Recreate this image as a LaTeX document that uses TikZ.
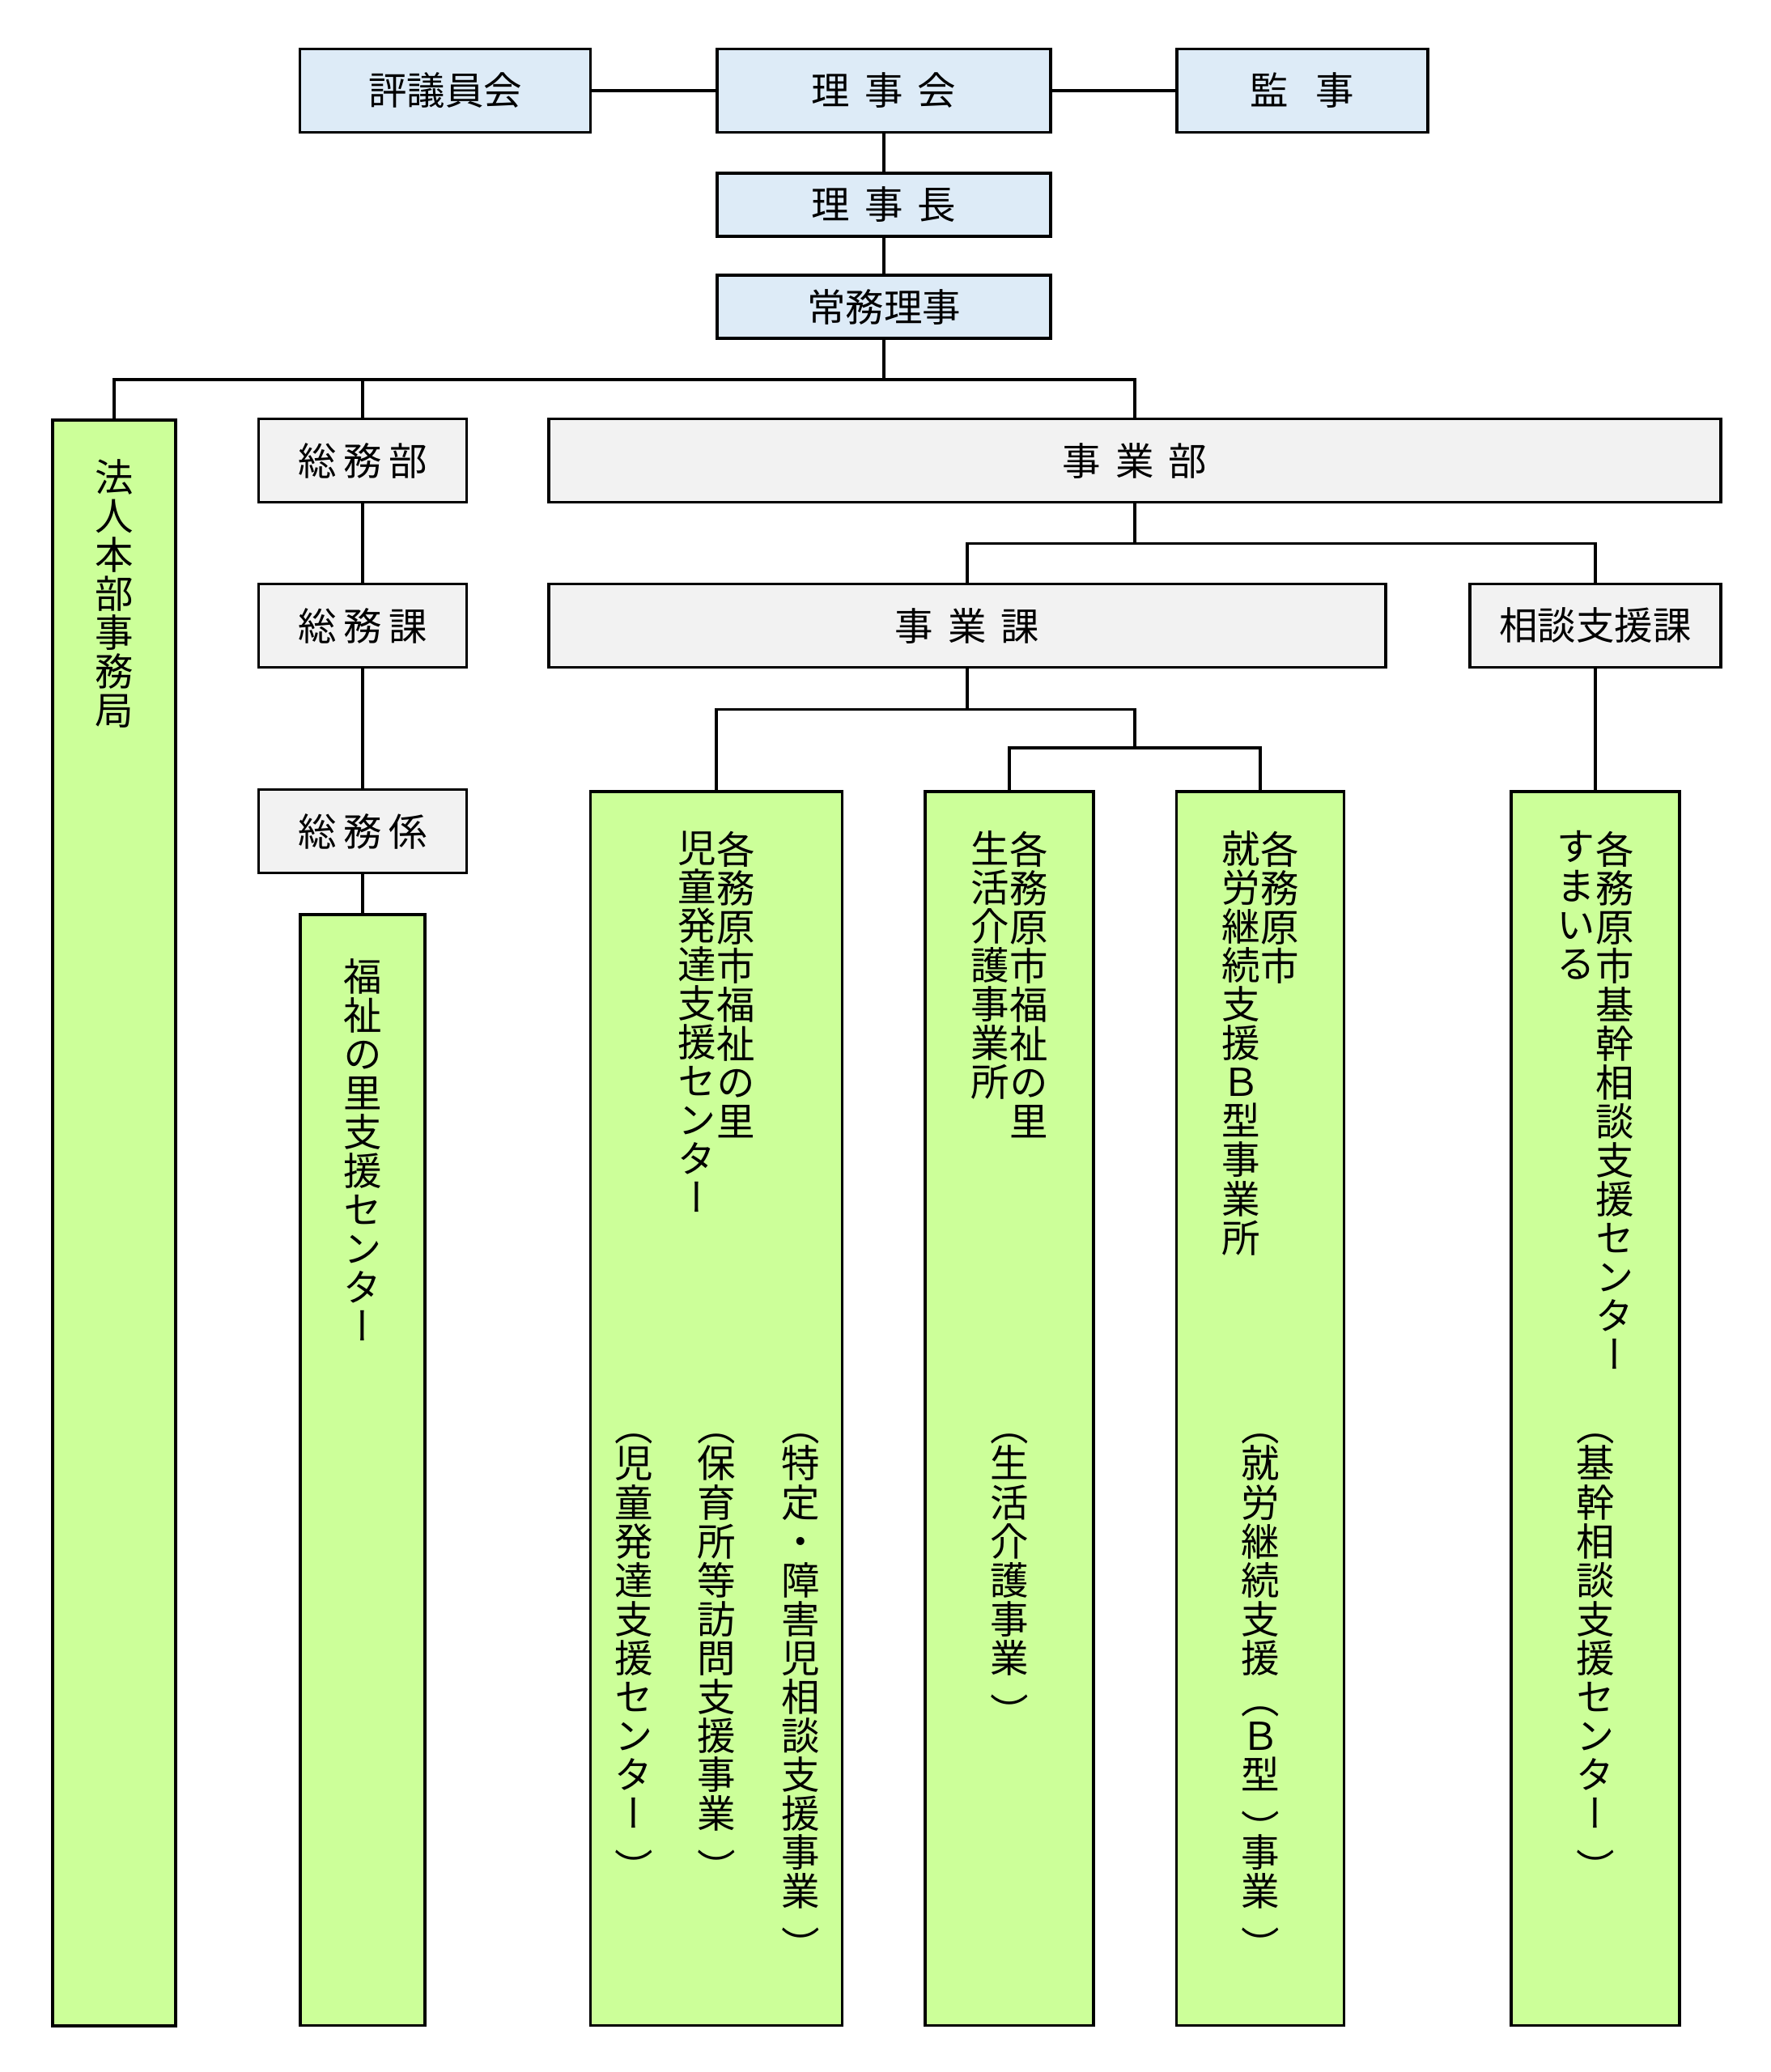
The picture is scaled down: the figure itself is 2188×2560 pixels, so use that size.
\documentclass[tikz,border=0pt]{standalone}
\usepackage{fontspec}
\newfontfamily\jpfont{Noto Sans CJK JP}
\newfontfamily\jpvert[RawFeature=+vert]{Noto Sans CJK JP}
\usetikzlibrary{positioning,calc}
\definecolor{boardblue}{RGB}{221,235,247}
\definecolor{deptgray}{RGB}{242,242,242}
\definecolor{sitegreen}{RGB}{204,255,153}
\newcommand{\wgap}{\hspace{0.38em}}
\newcommand{\ngap}{\hspace{0.18em}}
\newcommand{\jpsize}{\fontsize{13.5pt}{13.66pt}\selectfont}
\newcommand{\vsetup}{\jpvert\jpsize\lineskiplimit=-\maxdimen}
% vertical brackets
\newcommand{\vop}{\rule{0pt}{0.88em}\raisebox{-0.06em}{︵}}
\newcommand{\vcl}{\raisebox{-0.4em}{︶}}
\tikzset{
  board/.style={draw=black,fill=boardblue,line width=1pt,inner sep=0pt,
    minimum width=4.12cm,font=\jpfont\jpsize},
  dept/.style={draw=black,fill=deptgray,line width=1pt,inner sep=0pt,
    minimum height=1.03cm,font=\jpfont\jpsize},
  site/.style={draw=black,fill=sitegreen,line width=1pt,inner sep=0pt,anchor=north},
  vcol/.style={inner sep=0pt,align=center,anchor=north,font=\vsetup},
  link/.style={line width=1pt}
}

\begin{document}
\begin{tikzpicture}[x=0.01cm,y=-0.01cm]
  \useasboundingbox (0,0) rectangle (2188,2560);
  % board
  \node[board,minimum width=3.59cm,minimum height=1.03cm] (hyogi) at (550,112) {評議員会};
  \node[board,minimum height=1.03cm] (rijikai) at (1092,112) {理\wgap 事\wgap 会};
  \node[board,minimum width=3.10cm,minimum height=1.03cm] (kanji) at (1609,112) {監\hspace{0.7em}事};
  \node[board,minimum height=0.78cm] (rijicho) at (1092,253) {理\wgap 事\wgap 長};
  \node[board,minimum height=0.78cm] (jomu) at (1092,379) {常務理事};
  % departments
  \node[dept,minimum width=2.57cm] (somubu) at (448,569) {総\ngap 務\ngap 部};
  \node[dept,minimum width=14.47cm] (jigyobu) at (1402,569) {事\wgap 業\wgap 部};
  \node[dept,minimum width=2.57cm] (somuka) at (448,773) {総\ngap 務\ngap 課};
  \node[dept,minimum width=10.33cm] (jigyoka) at (1195,773) {事\wgap 業\wgap 課};
  \node[dept,minimum width=3.10cm] (sodanka) at (1971,773) {相談支援課};
  \node[dept,minimum width=2.57cm] (somukakari) at (448,1027) {総\ngap 務\ngap 係};
  % offices
  \node[site,minimum width=1.52cm,minimum height=19.83cm] (hojin) at (141,517) {};
  \node[site,minimum width=1.54cm,minimum height=13.72cm] (fukushi) at (448,1128) {};
  \node[site,minimum width=3.11cm,minimum height=15.24cm] (jido) at (885,976) {};
  \node[site,minimum width=2.08cm,minimum height=15.24cm] (seikatsu) at (1247,976) {};
  \node[site,minimum width=2.07cm,minimum height=15.24cm] (shuro) at (1557,976) {};
  \node[site,minimum width=2.08cm,minimum height=15.24cm] (sodan) at (1971,976) {};

  % vertical labels
  \node[vcol] (hojintxt) at ([yshift=-5.0mm]hojin.north) {法\\人\\本\\部\\事\\務\\局};
  \node[vcol] (fukushitxt) at ([yshift=-5.6mm]fukushi.north) {福\\祉\\の\\里\\支\\援\\セ\\ン\\タ\\ー};
  \node[vcol] (jidoa) at ([xshift=2.4mm,yshift=-5.0mm]jido.north) {各\\務\\原\\市\\福\\祉\\の\\里};
  \node[vcol] (jidob) at ([xshift=-2.4mm,yshift=-5.0mm]jido.north) {児\\童\\発\\達\\支\\援\\セ\\ン\\タ\\ー};
  \node[vcol] (jidoc) at ([xshift=10.4mm,yshift=-75.9mm]jido.north) {\vop\\特\\定\\・\\障\\害\\児\\相\\談\\支\\援\\事\\業\\\vcl};
  \node[vcol] (jidod) at ([yshift=-75.9mm]jido.north) {\vop\\保\\育\\所\\等\\訪\\問\\支\\援\\事\\業\\\vcl};
  \node[vcol] (jidoe) at ([xshift=-10.2mm,yshift=-75.9mm]jido.north) {\vop\\児\\童\\発\\達\\支\\援\\セ\\ン\\タ\\ー\\\vcl};
  \node[vcol] (seikatsua) at ([xshift=2.4mm,yshift=-5.0mm]seikatsu.north) {各\\務\\原\\市\\福\\祉\\の\\里};
  \node[vcol] (seikatsub) at ([xshift=-2.4mm,yshift=-5.0mm]seikatsu.north) {生\\活\\介\\護\\事\\業\\所};
  \node[vcol] (seikatsuc) at ([yshift=-75.9mm]seikatsu.north) {\vop\\生\\活\\介\\護\\事\\業\\\vcl};
  \node[vcol] (shuroa) at ([xshift=2.4mm,yshift=-5.0mm]shuro.north) {各\\務\\原\\市};
  \node[vcol] (shurob) at ([xshift=-2.4mm,yshift=-5.0mm]shuro.north) {就\\労\\継\\続\\支\\援\\Ｂ\\型\\事\\業\\所};
  \node[vcol] (shuroc) at ([yshift=-75.9mm]shuro.north) {\vop\\就\\労\\継\\続\\支\\援\\\vop\\Ｂ\\型\\\vcl\\事\\業\\\vcl};
  \node[vcol] (sodana) at ([xshift=2.4mm,yshift=-5.0mm]sodan.north) {各\\務\\原\\市\\基\\幹\\相\\談\\支\\援\\セ\\ン\\タ\\ー};
  \node[vcol] (sodanb) at ([xshift=-2.4mm,yshift=-5.0mm]sodan.north) {す\\ま\\い\\る};
  \node[vcol] (sodanc) at ([yshift=-75.9mm]sodan.north) {\vop\\基\\幹\\相\\談\\支\\援\\セ\\ン\\タ\\ー\\\vcl};

  % connectors
  \draw[link] (hyogi) -- (rijikai);
  \draw[link] (rijikai) -- (kanji);
  \draw[link] (rijikai) -- (rijicho);
  \draw[link] (rijicho) -- (jomu);
  \draw[link] (jomu.south) -- ++(0,49) coordinate (bus1);
  \draw[link] (hojin.north) |- (bus1) -| (jigyobu.north);
  \draw[link] (somubu.north) -- (somubu.north |- bus1);
  \draw[link] (somubu) -- (somuka);
  \draw[link] (somuka) -- (somukakari);
  \draw[link] (somukakari) -- (fukushi);
  \draw[link] (jigyobu.south) -- ++(0,49) coordinate (bus2);
  \draw[link] (jigyoka.north) |- (bus2) -| (sodanka.north);
  \draw[link] (jigyoka.south) -- ++(0,50) coordinate (bus3);
  \coordinate (bus4) at ($(seikatsu.north)!0.5!(shuro.north)+(0,-52)$);
  \draw[link] (jido.north) |- (bus3) -| (bus4);
  \draw[link] (seikatsu.north) |- (bus4) -| (shuro.north);
  \draw[link] (sodanka) -- (sodan);
\end{tikzpicture}
\end{document}
